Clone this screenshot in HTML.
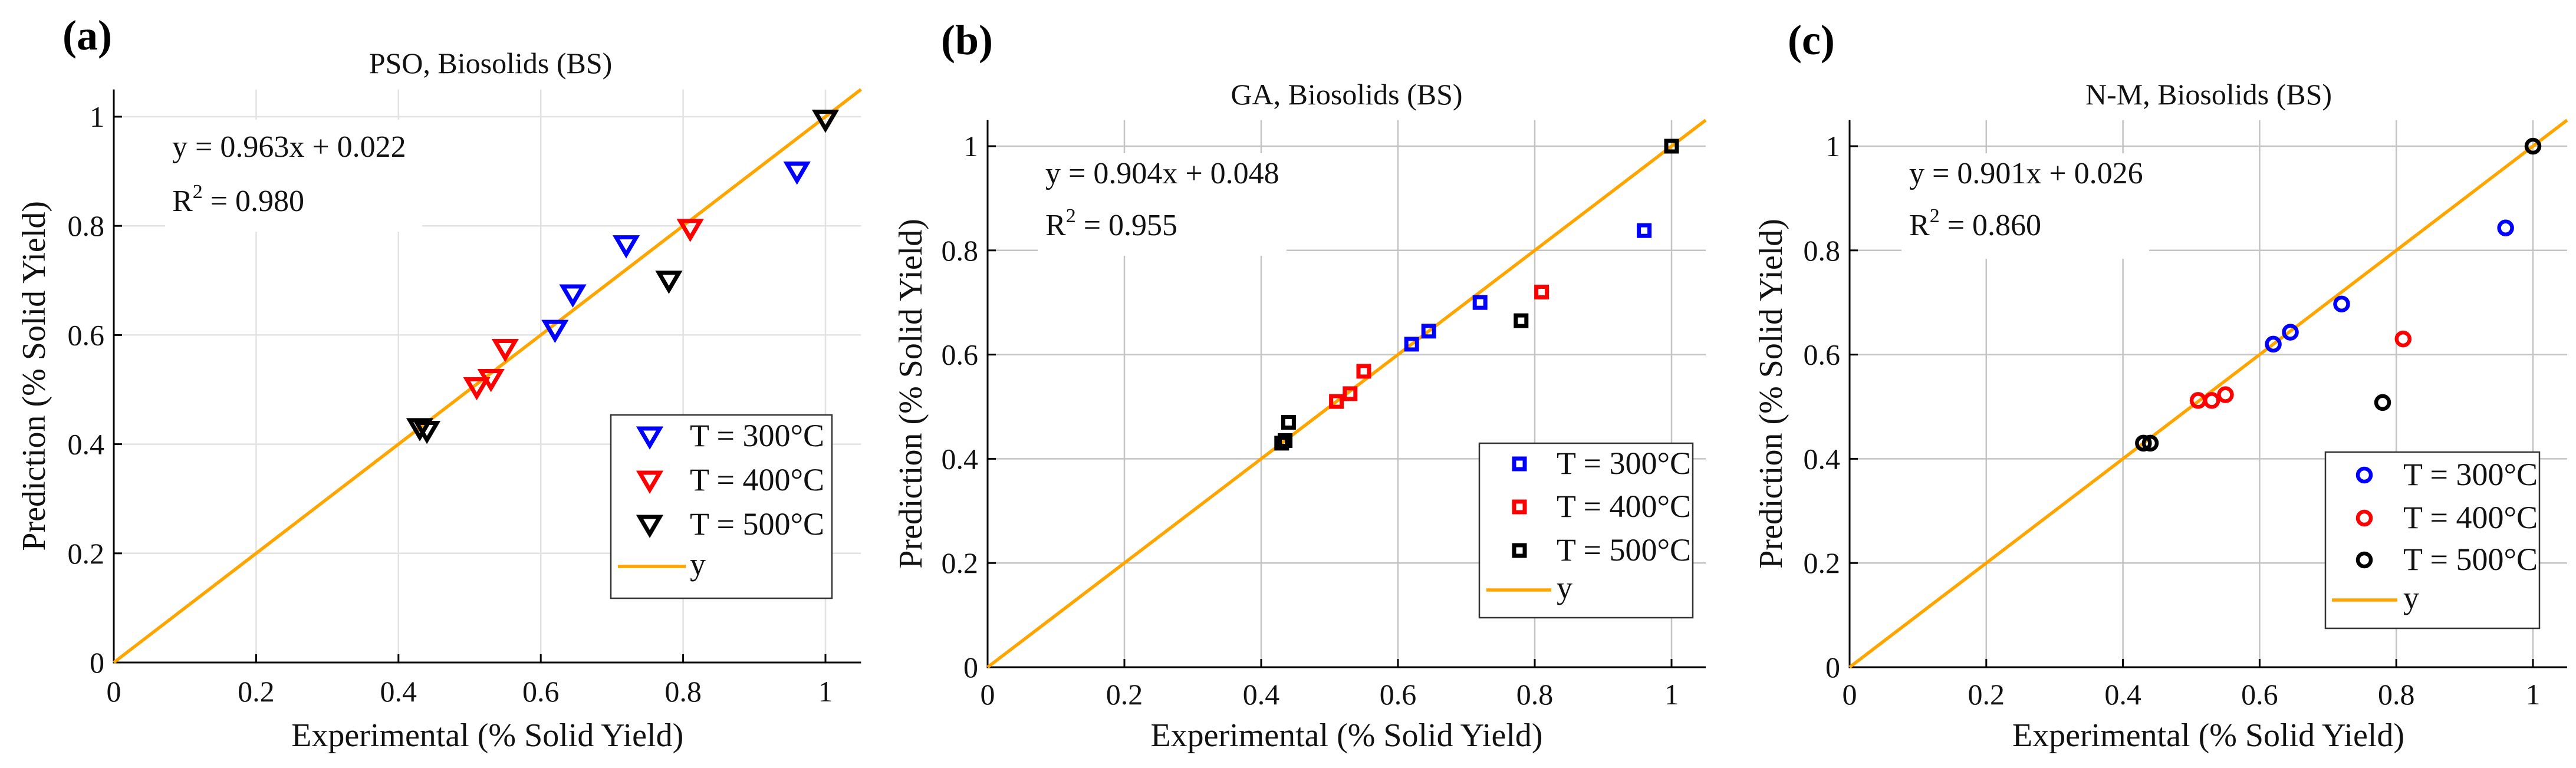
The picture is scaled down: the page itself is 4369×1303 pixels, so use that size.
<!DOCTYPE html>
<html><head><meta charset="utf-8"><style>
html,body{margin:0;padding:0;background:#fff;}
svg{display:block;font-family:"Liberation Serif",serif;}
</style></head><body>
<svg id="fig" width="4369" height="1303" viewBox="0 0 4369 1303" xmlns="http://www.w3.org/2000/svg"></svg>
<script>
const ticks = [0, 0.2, 0.4, 0.6, 0.8, 1];
const tickLabels = ["0", "0.2", "0.4", "0.6", "0.8", "1"];
const seriesNames = ["T = 300°C", "T = 400°C", "T = 500°C"];
const seriesColors = ["#0000ff", "#ff0000", "#000000"];
const titles = ["PSO, Biosolids (BS)", "GA, Biosolids (BS)", "N-M, Biosolids (BS)"];
const letters = ["(a)", "(b)", "(c)"];
const eqs = ["y = 0.963x + 0.022", "y = 0.904x + 0.048", "y = 0.901x + 0.026"];
const r2s = ["0.980", "0.955", "0.860"];
// panel a (PSO)
const a300x = [0.62, 0.645, 0.72, 0.96];
const a300y = [0.61, 0.675, 0.765, 0.90];
const a400x = [0.51, 0.53, 0.55, 0.81];
const a400y = [0.505, 0.52, 0.575, 0.795];
const a500x = [0.43, 0.44, 0.78, 1.0];
const a500y = [0.43, 0.425, 0.70, 0.995];
// panel b (GA)
const b300x = [0.62, 0.645, 0.72, 0.96];
const b300y = [0.62, 0.645, 0.70, 0.838];
const b400x = [0.51, 0.53, 0.55, 0.81];
const b400y = [0.51, 0.525, 0.568, 0.72];
const b500x = [0.43, 0.435, 0.44, 0.78, 1.0];
const b500y = [0.43, 0.435, 0.47, 0.665, 1.0];
// panel c (N-M)
const c300x = [0.62, 0.645, 0.72, 0.96];
const c300y = [0.62, 0.643, 0.697, 0.843];
const c400x = [0.51, 0.53, 0.55, 0.81];
const c400y = [0.512, 0.512, 0.523, 0.63];
const c500x = [0.43, 0.44, 0.78, 1.0];
const c500y = [0.43, 0.43, 0.508, 1.0];

const NS = "http://www.w3.org/2000/svg";
const svg = document.getElementById("fig");
function mk(tag, attrs, parent) {
  const e = document.createElementNS(NS, tag);
  for (const k in attrs) e.setAttribute(k, attrs[k]);
  (parent || svg).appendChild(e);
  return e;
}

const panels = [
  {x0:193, x1:1400, y0:1124, y1:198, grid:"#e2e2e2", marker:"tri",
   sx:[a300x,a400x,a500x], sy:[a300y,a400y,a500y],
   letter:[106,84], title:[832,124], eq:[292,266,358], box:[280,203,716,393],
   leg:[1036,704,1411,1015], legRows:[757,832,907,983], legMk:1102, legTx:1170, legLine:[1048,1163],
   ylab:[58], tickY:1190, xlab:1266},
  {x0:1675, x1:2835, y0:1132, y1:248, grid:"#c4c4c4", marker:"sq",
   sx:[b300x,b400x,b500x], sy:[b300y,b400y,b500y],
   letter:[1596,92], title:[2284,177], eq:[1773,311,399], box:[1760,260,2182,434],
   leg:[2509,752,2871,1048], legRows:[804,877,951,1023], legMk:2577, legTx:2640, legLine:[2521,2631],
   ylab:[1545], tickY:1195, xlab:1266},
  {x0:3137, x1:4296, y0:1132, y1:248, grid:"#c4c4c4", marker:"circ",
   sx:[c300x,c400x,c500x], sy:[c300y,c400y,c500y],
   letter:[3032,92], title:[3746,177], eq:[3238,311,399], box:[3225,260,3645,439],
   leg:[3944,767,4307,1066], legRows:[823,896,967,1040], legMk:4010, legTx:4076, legLine:[3955,4066],
   ylab:[3004], tickY:1195, xlab:1266}
];

function drawMarker(g, kind, cx, cy, color) {
  let m;
  if (kind === "tri") {
    m = mk("polygon", {points:`${cx-17},${cy-13} ${cx+17},${cy-13} ${cx},${cy+16}`, fill:"none", stroke:color, "stroke-width":7, "stroke-linejoin":"miter"}, g);
  } else if (kind === "sq") {
    m = mk("rect", {x:cx-9, y:cy-9, width:18, height:18, fill:"none", stroke:color, "stroke-width":7}, g);
  } else {
    m = mk("circle", {cx:cx, cy:cy, r:11, fill:"none", stroke:color, "stroke-width":6.5}, g);
  }
  return m;
}

panels.forEach((p, i) => {
  const g = mk("g", {});
  
  
  const X = v => p.x0 + v * (p.x1 - p.x0);
  const Y = v => p.y0 - v * (p.y0 - p.y1);
  const xmax = X(1.05), ymax = Y(1.05);
  ticks.forEach((t, k) => {
    if (t > 0) {
      const gl = mk("line", {x1:X(t), y1:p.y0, x2:X(t), y2:ymax, stroke:p.grid, "stroke-width":2.5}, g);
      
      
      const gh = mk("line", {x1:p.x0, y1:Y(t), x2:xmax, y2:Y(t), stroke:p.grid, "stroke-width":2.5}, g);
      
      
    }
  });
  const bx = mk("rect", {x:p.box[0], y:p.box[1], width:p.box[2]-p.box[0], height:p.box[3]-p.box[1], fill:"#fff"}, g);
  
  
  const ax = mk("path", {d:`M${p.x0},${ymax} L${p.x0},${p.y0} L${xmax},${p.y0}`, fill:"none", stroke:"#000", "stroke-width":3}, g);
  
  
  ticks.forEach((t, k) => {
    const tx = mk("line", {x1:X(t), y1:p.y0, x2:X(t), y2:p.y0-14, stroke:"#000", "stroke-width":3}, g);
    
    
    const ty = mk("line", {x1:p.x0, y1:Y(t), x2:p.x0+14, y2:Y(t), stroke:"#000", "stroke-width":3}, g);
    
    
    const lx = mk("text", {x:X(t), y:p.tickY, "font-size":50, "text-anchor":"middle", fill:"#111"}, g);
    lx.textContent = tickLabels[k];
    
    
    const ly = mk("text", {x:p.x0-16, y:Y(t)+17, "font-size":50, "text-anchor":"end", fill:"#111"}, g);
    ly.textContent = tickLabels[k];
    
    
  });
  const ln = mk("line", {x1:X(0), y1:Y(0), x2:X(1.05), y2:Y(1.05), stroke:"#ffa500", "stroke-width":5.5}, g);
  
  
  for (let s = 0; s < 3; s++) {
    const xs = p.sx[s], ys = p.sy[s];
    for (let j = 0; j < xs.length; j++) {
      const m = drawMarker(g, p.marker, X(xs[j]), Y(ys[j]), seriesColors[s]);
      
      
    }
  }
  const lt = mk("text", {x:p.letter[0], y:p.letter[1], "font-size":72, "font-weight":"bold"}, g);
  lt.textContent = letters[i];
  
  
  const tt = mk("text", {x:p.title[0], y:p.title[1], "font-size":50, "text-anchor":"middle", fill:"#111"}, g);
  tt.textContent = titles[i];
  
  
  const e1 = mk("text", {x:p.eq[0], y:p.eq[1], "font-size":52, fill:"#111"}, g);
  e1.textContent = eqs[i];
  
  
  const e2 = mk("text", {x:p.eq[0], y:p.eq[2], "font-size":52, fill:"#111"}, g);
  e2.innerHTML = 'R<tspan dy="-22" font-size="34">2</tspan><tspan dy="22"> = ' + r2s[i] + '</tspan>';
  
  
  const xl = mk("text", {x:(p.x0+xmax)/2, y:p.xlab, "font-size":56, "text-anchor":"middle", fill:"#111"}, g);
  xl.textContent = "Experimental (% Solid Yield)";
  
  
  const ymid = (p.y0 + ymax) / 2;
  const yl = mk("text", {x:p.ylab[0], y:ymid, "font-size":56, "text-anchor":"middle", fill:"#111", transform:`rotate(-90 ${p.ylab[0]} ${ymid})`, dy:"18"}, g);
  yl.textContent = "Prediction (% Solid Yield)";
  
  
  const lg = mk("g", {}, g);
  
  
  mk("rect", {x:p.leg[0], y:p.leg[1], width:p.leg[2]-p.leg[0], height:p.leg[3]-p.leg[1], fill:"#fff", stroke:"#333", "stroke-width":2.5}, lg);
  for (let s = 0; s < 3; s++) {
    const e = mk("g", {}, lg);
    
    
    drawMarker(e, p.marker, p.legMk, p.legRows[s]-17, seriesColors[s]);
    const t = mk("text", {x:p.legTx, y:p.legRows[s], "font-size":54, fill:"#111"}, e);
    t.textContent = seriesNames[s];
  }
  const le = mk("g", {}, lg);
  
  
  mk("line", {x1:p.legLine[0], y1:p.legRows[3]-22, x2:p.legLine[1], y2:p.legRows[3]-22, stroke:"#ffa500", "stroke-width":5.5}, le);
  const ty2 = mk("text", {x:p.legTx, y:p.legRows[3]-8, "font-size":54, fill:"#111"}, le);
  ty2.textContent = "y";
});
</script>
</body></html>
